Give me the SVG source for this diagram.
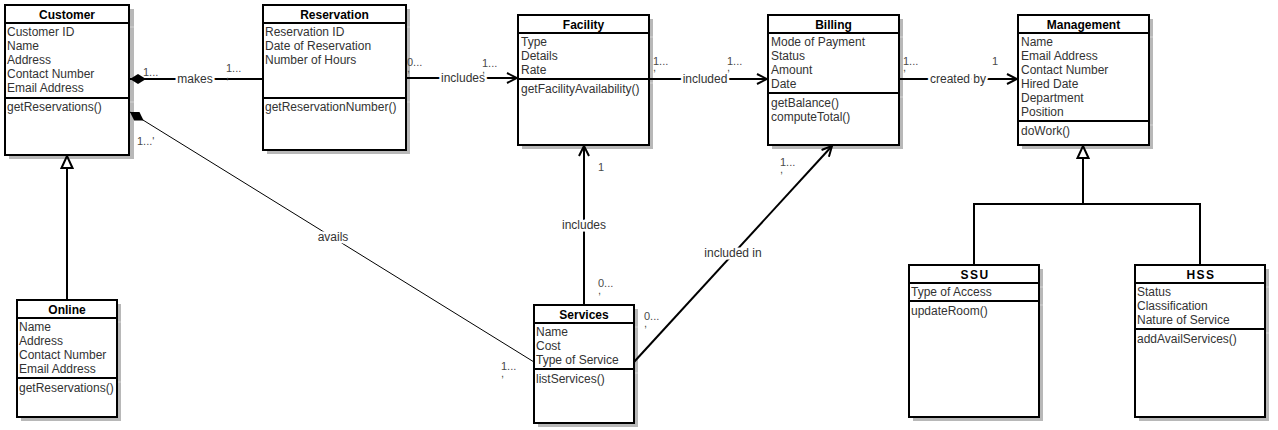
<svg xmlns="http://www.w3.org/2000/svg" width="1278" height="430" viewBox="0 0 1278 430">
  <style>
    .shadow { fill: #b8b8b8; }
    .stick { stroke: #d4d4d4; stroke-width: 1; }
    .box { fill: #fff; stroke: #000; stroke-width: 2; }
    .sep { stroke: #000; stroke-width: 2; }
    .title { font-family: "Liberation Sans", Arial, sans-serif; font-size: 12px; font-weight: bold; text-anchor: middle; fill: #000; }
    .attr { font-family: "Liberation Sans", Arial, sans-serif; font-size: 12px; fill: #333; }
    .wide { letter-spacing: 1.5px; }
    .edge { fill: none; stroke: #000; stroke-width: 2; }
    .thin { fill: none; stroke: #000; stroke-width: 1; }
    .lbl { font-family: "Liberation Sans", Arial, sans-serif; font-size: 12px; fill: #333; text-anchor: middle; paint-order: stroke; stroke: #fff; stroke-width: 5px; stroke-linejoin: round; }
    .mult { font-family: "Liberation Sans", Arial, sans-serif; font-size: 11px; fill: #4a4a4a; }
  </style>
  <defs>
    <marker id="open" viewBox="0 0 12 12" refX="11" refY="6" markerWidth="12" markerHeight="12" markerUnits="userSpaceOnUse" orient="auto">
      <path d="M1,1 L11,6 L1,11" fill="none" stroke="#000" stroke-width="2"/>
    </marker>
    <marker id="diamond" viewBox="0 0 16 10" refX="0" refY="5" markerWidth="16" markerHeight="10" markerUnits="userSpaceOnUse" orient="auto">
      <path d="M0,5 L8,0 L16,5 L8,10 Z" fill="#000"/>
    </marker>
    <marker id="inherit" viewBox="0 0 14 14" refX="13" refY="7" markerWidth="14" markerHeight="14" markerUnits="userSpaceOnUse" orient="auto">
      <path d="M1,1.5 L13,7 L1,12.5 Z" fill="#fff" stroke="#000" stroke-width="2"/>
    </marker>
  </defs>

  <rect width="1278" height="430" fill="#fff"/>

  <!-- Customer -->
  <g id="customer">
    <rect class="shadow" x="9" y="9" width="125" height="150"/>
    <line class="stick" x1="130" y1="27" x2="134" y2="27"/>
    <line class="stick" x1="130" y1="102" x2="134" y2="102"/>
    <rect class="box" x="5" y="5" width="124" height="150"/>
    <line class="sep" x1="5" y1="23" x2="129" y2="23"/>
    <line class="sep" x1="5" y1="98" x2="129" y2="98"/>
    <text class="title" x="67" y="18.5">Customer</text>
    <text class="attr" x="7" y="36">Customer ID</text>
    <text class="attr" x="7" y="50">Name</text>
    <text class="attr" x="7" y="64">Address</text>
    <text class="attr" x="7" y="78">Contact Number</text>
    <text class="attr" x="7" y="92">Email Address</text>
    <text class="attr" x="7" y="111">getReservations()</text>
  </g>

  <!-- Reservation -->
  <g id="reservation">
    <rect class="shadow" x="267" y="9" width="143" height="145"/>
    <line class="stick" x1="407" y1="27" x2="410" y2="27"/>
    <line class="stick" x1="407" y1="102" x2="410" y2="102"/>
    <rect class="box" x="263" y="5" width="143" height="145"/>
    <line class="sep" x1="263" y1="23" x2="406" y2="23"/>
    <line class="sep" x1="263" y1="98" x2="406" y2="98"/>
    <text class="title" x="334.5" y="18.5">Reservation</text>
    <text class="attr" x="265" y="36">Reservation ID</text>
    <text class="attr" x="265" y="50">Date of Reservation</text>
    <text class="attr" x="265" y="64">Number of Hours</text>
    <text class="attr" x="265" y="111">getReservationNumber()</text>
  </g>

  <!-- Facility -->
  <g id="facility">
    <rect class="shadow" x="522" y="19" width="131" height="130"/>
    <line class="stick" x1="650" y1="37" x2="653" y2="37"/>
    <line class="stick" x1="650" y1="83" x2="653" y2="83"/>
    <rect class="box" x="518" y="15" width="131" height="130"/>
    <line class="sep" x1="518" y1="33" x2="649" y2="33"/>
    <line class="sep" x1="518" y1="79" x2="649" y2="79"/>
    <text class="title" x="583.5" y="28.5">Facility</text>
    <text class="attr" x="521" y="46">Type</text>
    <text class="attr" x="521" y="60">Details</text>
    <text class="attr" x="521" y="74">Rate</text>
    <text class="attr" x="521" y="93">getFacilityAvailability()</text>
  </g>

  <!-- Billing -->
  <g id="billing">
    <rect class="shadow" x="772" y="19" width="131" height="130"/>
    <line class="stick" x1="900" y1="37" x2="903" y2="37"/>
    <line class="stick" x1="900" y1="97" x2="903" y2="97"/>
    <rect class="box" x="768" y="15" width="131" height="130"/>
    <line class="sep" x1="768" y1="33" x2="899" y2="33"/>
    <line class="sep" x1="768" y1="93" x2="899" y2="93"/>
    <text class="title" x="833.5" y="28.5">Billing</text>
    <text class="attr" x="771" y="46">Mode of Payment</text>
    <text class="attr" x="771" y="60">Status</text>
    <text class="attr" x="771" y="74">Amount</text>
    <text class="attr" x="771" y="88">Date</text>
    <text class="attr" x="771" y="107">getBalance()</text>
    <text class="attr" x="771" y="121">computeTotal()</text>
  </g>

  <!-- Management -->
  <g id="management">
    <rect class="shadow" x="1022" y="19" width="131" height="130"/>
    <line class="stick" x1="1150" y1="37" x2="1153" y2="37"/>
    <line class="stick" x1="1150" y1="125" x2="1153" y2="125"/>
    <rect class="box" x="1018" y="15" width="131" height="130"/>
    <line class="sep" x1="1018" y1="33" x2="1149" y2="33"/>
    <line class="sep" x1="1018" y1="121" x2="1149" y2="121"/>
    <text class="title" x="1083.5" y="28.5">Management</text>
    <text class="attr" x="1021" y="46">Name</text>
    <text class="attr" x="1021" y="60">Email Address</text>
    <text class="attr" x="1021" y="74">Contact Number</text>
    <text class="attr" x="1021" y="88">Hired Date</text>
    <text class="attr" x="1021" y="102">Department</text>
    <text class="attr" x="1021" y="116">Position</text>
    <text class="attr" x="1021" y="135">doWork()</text>
  </g>

  <!-- Online -->
  <g id="online">
    <rect class="shadow" x="21" y="304" width="100" height="117"/>
    <line class="stick" x1="118" y1="322" x2="121" y2="322"/>
    <line class="stick" x1="118" y1="382" x2="121" y2="382"/>
    <rect class="box" x="17" y="300" width="100" height="117"/>
    <line class="sep" x1="17" y1="318" x2="117" y2="318"/>
    <line class="sep" x1="17" y1="378" x2="117" y2="378"/>
    <text class="title" x="67" y="313.5">Online</text>
    <text class="attr" x="19" y="331">Name</text>
    <text class="attr" x="19" y="345">Address</text>
    <text class="attr" x="19" y="359">Contact Number</text>
    <text class="attr" x="19" y="373">Email Address</text>
    <text class="attr" x="19" y="392">getReservations()</text>
  </g>

  <!-- Services -->
  <g id="services">
    <rect class="shadow" x="538" y="309" width="100" height="118"/>
    <line class="stick" x1="635" y1="327" x2="638" y2="327"/>
    <line class="stick" x1="635" y1="373" x2="638" y2="373"/>
    <rect class="box" x="534" y="305" width="100" height="118"/>
    <line class="sep" x1="534" y1="323" x2="634" y2="323"/>
    <line class="sep" x1="534" y1="369" x2="634" y2="369"/>
    <text class="title" x="584" y="318.5">Services</text>
    <text class="attr" x="536" y="336">Name</text>
    <text class="attr" x="536" y="350">Cost</text>
    <text class="attr" x="536" y="364">Type of Service</text>
    <text class="attr" x="536" y="383">listServices()</text>
  </g>

  <!-- SSU -->
  <g id="ssu">
    <rect class="shadow" x="913" y="269" width="130" height="152"/>
    <line class="stick" x1="1040" y1="287" x2="1043" y2="287"/>
    <line class="stick" x1="1040" y1="305" x2="1043" y2="305"/>
    <rect class="box" x="909" y="265" width="130" height="152"/>
    <line class="sep" x1="909" y1="283" x2="1039" y2="283"/>
    <line class="sep" x1="909" y1="301" x2="1039" y2="301"/>
    <text class="title wide" x="975" y="278.5">SSU</text>
    <text class="attr" x="911" y="296">Type of Access</text>
    <text class="attr" x="911" y="315">updateRoom()</text>
  </g>

  <!-- HSS -->
  <g id="hss">
    <rect class="shadow" x="1139" y="269" width="130" height="152"/>
    <line class="stick" x1="1266" y1="287" x2="1269" y2="287"/>
    <line class="stick" x1="1266" y1="333" x2="1269" y2="333"/>
    <rect class="box" x="1135" y="265" width="130" height="152"/>
    <line class="sep" x1="1135" y1="283" x2="1265" y2="283"/>
    <line class="sep" x1="1135" y1="329" x2="1265" y2="329"/>
    <text class="title wide" x="1201" y="278.5">HSS</text>
    <text class="attr" x="1137" y="296">Status</text>
    <text class="attr" x="1137" y="310">Classification</text>
    <text class="attr" x="1137" y="324">Nature of Service</text>
    <text class="attr" x="1137" y="343">addAvailServices()</text>
  </g>

  <!-- Associations, compositions and generalizations -->
  <g id="connectors">
    <!-- Customer makes Reservation -->
    <path class="edge" d="M130,79 H263" marker-start="url(#diamond)"/>
    <!-- Customer avails Services -->
    <path class="thin" d="M130,112 L534,362" marker-start="url(#diamond)"/>
    <!-- Reservation includes Facility -->
    <path class="edge" d="M406,78 H517" marker-end="url(#open)"/>
    <!-- Facility included Billing -->
    <path class="edge" d="M649,79 H767" marker-end="url(#open)"/>
    <!-- Billing created by Management -->
    <path class="edge" d="M899,79 H1017" marker-end="url(#open)"/>
    <!-- Services includes Facility -->
    <path class="edge" d="M584,305 V146" marker-end="url(#open)"/>
    <!-- Services included in Billing -->
    <path class="edge" d="M634,362 L832,146" marker-end="url(#open)"/>
    <!-- Online is a Customer -->
    <path class="edge" d="M67,300 V156" marker-end="url(#inherit)"/>
    <!-- SSU and HSS are Management -->
    <path class="edge" d="M974,265 V204 H1200 V265"/>
    <path class="edge" d="M1083,204 V146" marker-end="url(#inherit)"/>

    <text class="lbl" x="195" y="83">makes</text>
    <text class="lbl" x="333" y="241">avails</text>
    <text class="lbl" x="463" y="82">includes</text>
    <text class="lbl" x="705" y="83">included</text>
    <text class="lbl" x="958" y="83">created by</text>
    <text class="lbl" x="584" y="229">includes</text>
    <text class="lbl" x="733" y="257">included in</text>

    <!-- multiplicities: value with its trailing mark on a second line -->
    <text class="mult" x="143" y="76">1...</text>
    <text class="mult" x="226" y="72">1...<tspan x="226" dy="7">,</tspan></text>
    <text class="mult" x="137" y="145">1...'</text>
    <text class="mult" x="501" y="370">1...<tspan x="501" dy="7">,</tspan></text>
    <text class="mult" x="407" y="66">0...<tspan x="407" dy="6">,</tspan></text>
    <text class="mult" x="482" y="67">1...<tspan x="482" dy="6">,</tspan></text>
    <text class="mult" x="653" y="65">1...<tspan x="653" dy="6">,</tspan></text>
    <text class="mult" x="727" y="65">1...<tspan x="727" dy="6">,</tspan></text>
    <text class="mult" x="903" y="65">1...<tspan x="903" dy="6">,</tspan></text>
    <text class="mult" x="992" y="65">1</text>
    <text class="mult" x="598" y="171">1</text>
    <text class="mult" x="598" y="287">0...<tspan x="598" dy="7">,</tspan></text>
    <text class="mult" x="644" y="320">0...<tspan x="644" dy="7">,</tspan></text>
    <text class="mult" x="780" y="166">1...<tspan x="780" dy="7">,</tspan></text>
  </g>
</svg>
